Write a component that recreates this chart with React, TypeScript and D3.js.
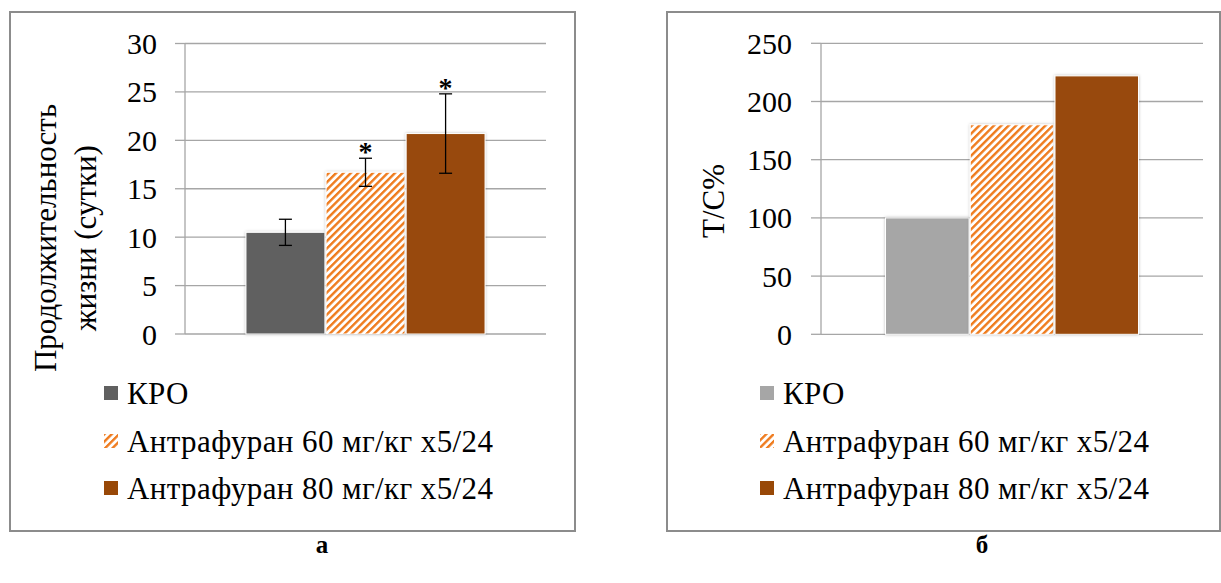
import React, { useRef, useEffect } from 'react';
import * as d3 from 'd3';

// Series names (legend) and the two panels' data
const seriesNames = ['КРО', 'Антрафуран 60 мг/кг х5/24', 'Антрафуран 80 мг/кг х5/24'];
const lifeValues = [10.5, 16.7, 20.7];
const lifeErrors = [1.35, 1.45, 4.1];
const lifeStars = [false, true, true];
const lifeTicks = [0, 5, 10, 15, 20, 25, 30];
const tcValues = [100, 180, 222];
const tcTicks = [0, 50, 100, 150, 200, 250];

const FONT = 'Liberation Serif, Times New Roman, serif';

const App = () => {
  const ref = useRef<SVGSVGElement>(null);

  useEffect(() => {
    const svg = d3.select(ref.current);
    svg.selectAll('*').remove();
    svg.attr('font-family', FONT);

    const defs = svg.append('defs');
    defs.append('pattern')
      .attr('id', 'hatch')
      .attr('patternUnits', 'userSpaceOnUse')
      .attr('width', 5.2)
      .attr('height', 5.2)
      .attr('patternTransform', 'rotate(45)')
      .call(p => {
        p.append('rect').attr('width', 5.2).attr('height', 5.2).attr('fill', '#fff');
        p.append('rect').attr('width', 2.4).attr('height', 5.2).attr('fill', '#ef7b1e');
      });
    const f = defs.append('filter').attr('id', 'shadow').attr('x', '-10%').attr('y', '-10%')
      .attr('width', '120%').attr('height', '120%');
    f.append('feDropShadow').attr('dx', 0).attr('dy', 0).attr('stdDeviation', 1.5)
      .attr('flood-color', '#000').attr('flood-opacity', 0.25);

    const panel = (opts: {
      box: [number, number, number, number];
      plot: [number, number, number, number];
      values: number[];
      errors?: number[];
      stars?: boolean[];
      ticks: number[];
      fills: string[];
      legendX: number;
      labelEnd: number;
      caption: string;
      captionX: number;
    }) => {
      const [bx, by, bw, bh] = opts.box;
      const [x0, x1, yTop, yBot] = opts.plot;
      const g = svg.append('g');

      g.append('rect').attr('x', bx).attr('y', by).attr('width', bw).attr('height', bh)
        .attr('fill', '#fff').attr('stroke', '#8c8c8c').attr('stroke-width', 2);

      const y = d3.scaleLinear().domain([0, d3.max(opts.ticks)!]).range([yBot, yTop]);
      const group = d3.scaleBand().domain(['g']).range([x0, x1]).paddingOuter(0.255).paddingInner(0);
      const xs = d3.scaleBand<number>().domain(d3.range(opts.values.length))
        .range([group('g')!, group('g')! + group.bandwidth()]).paddingInner(0.015);

      // gridlines
      g.selectAll('line.grid').data(opts.ticks).join('line')
        .attr('x1', x0).attr('x2', x1)
        .attr('y1', d => y(d)).attr('y2', d => y(d))
        .attr('stroke', '#a6a6a6').attr('stroke-width', 1.3);

      // axis
      g.append('line').attr('x1', x0).attr('x2', x0).attr('y1', yTop).attr('y2', yBot)
        .attr('stroke', '#a6a6a6').attr('stroke-width', 1.3);
      g.selectAll('line.tick').data(opts.ticks).join('line')
        .attr('x1', x0 - 10).attr('x2', x0)
        .attr('y1', d => y(d)).attr('y2', d => y(d))
        .attr('stroke', '#a6a6a6').attr('stroke-width', 1.3);
      g.selectAll('text.tick').data(opts.ticks).join('text')
        .attr('x', opts.labelEnd).attr('y', d => y(d))
        .attr('text-anchor', 'end').attr('dominant-baseline', 'central')
        .attr('font-size', 30).attr('fill', '#000')
        .text(d => d);

      // bars
      g.selectAll('rect.bar').data(opts.values).join('rect')
        .attr('x', (_, i) => xs(i)!).attr('width', xs.bandwidth())
        .attr('y', d => y(d)).attr('height', d => y(0) - y(d))
        .attr('fill', (_, i) => opts.fills[i])
        .attr('stroke', '#fff').attr('stroke-width', 1)
        .attr('filter', 'url(#shadow)');

      // error bars + stars
      if (opts.errors) {
        opts.values.forEach((v, i) => {
          const cx = xs(i)! + xs.bandwidth() / 2;
          const e = opts.errors![i];
          const eg = g.append('g').attr('stroke', '#000').attr('stroke-width', 1.3);
          eg.append('line').attr('x1', cx).attr('x2', cx).attr('y1', y(v + e)).attr('y2', y(v - e));
          eg.append('line').attr('x1', cx - 6.5).attr('x2', cx + 6.5).attr('y1', y(v + e)).attr('y2', y(v + e));
          eg.append('line').attr('x1', cx - 6.5).attr('x2', cx + 6.5).attr('y1', y(v - e)).attr('y2', y(v - e));
          if (opts.stars && opts.stars[i]) {
            g.append('text').attr('x', cx).attr('y', y(v + e) + 3)
              .attr('text-anchor', 'middle')
              .attr('font-size', 28).attr('font-weight', 'bold')
              .text('*');
          }
        });
      }

      // legend
      const rowsY = [393, 441, 488];
      seriesNames.forEach((name, i) => {
        g.append('rect').attr('x', opts.legendX).attr('y', rowsY[i] - 7).attr('width', 14).attr('height', 14)
          .attr('fill', opts.fills[i]);
        g.append('text').attr('x', opts.legendX + 23).attr('y', rowsY[i])
          .attr('dominant-baseline', 'central')
          .attr('font-size', 31).attr('letter-spacing', 0.4).attr('fill', '#000')
          .text(name);
      });

      svg.append('text').attr('x', opts.captionX).attr('y', 553)
        .attr('text-anchor', 'middle')
        .attr('font-size', 25).attr('font-weight', 'bold')
        .text(opts.caption);

      return g;
    };

    const left = panel({
      box: [10, 12, 565, 519],
      plot: [185, 546, 43.5, 334],
      values: lifeValues,
      errors: lifeErrors,
      stars: lifeStars,
      ticks: lifeTicks,
      fills: ['#606060', 'url(#hatch)', '#984807'],
      legendX: 104,
      labelEnd: 157,
      caption: 'а',
      captionX: 322,
    });
    [['Продолжительность', 45], ['жизни (сутки)', 85]].forEach(([t, x]) => {
      left.append('text')
        .attr('transform', `translate(${x},238) rotate(-90)`)
        .attr('text-anchor', 'middle').attr('dominant-baseline', 'central')
        .attr('font-size', 31)
        .text(t as string);
    });

    const right = panel({
      box: [667, 12, 553, 519],
      plot: [821, 1203, 43.3, 334.3],
      values: tcValues,
      ticks: tcTicks,
      fills: ['#a6a6a6', 'url(#hatch)', '#984807'],
      legendX: 760,
      labelEnd: 792,
      caption: 'б',
      captionX: 982,
    });
    right.append('text')
      .attr('transform', 'translate(713,201) rotate(-90)')
      .attr('text-anchor', 'middle').attr('dominant-baseline', 'central')
      .attr('font-size', 31)
      .text('Т/С%');
  }, []);

  return (
    <svg ref={ref} width={1221} height={583}
      style={{ position: 'absolute', left: 0, top: 0, background: '#fff' }} />
  );
};

export default App;
